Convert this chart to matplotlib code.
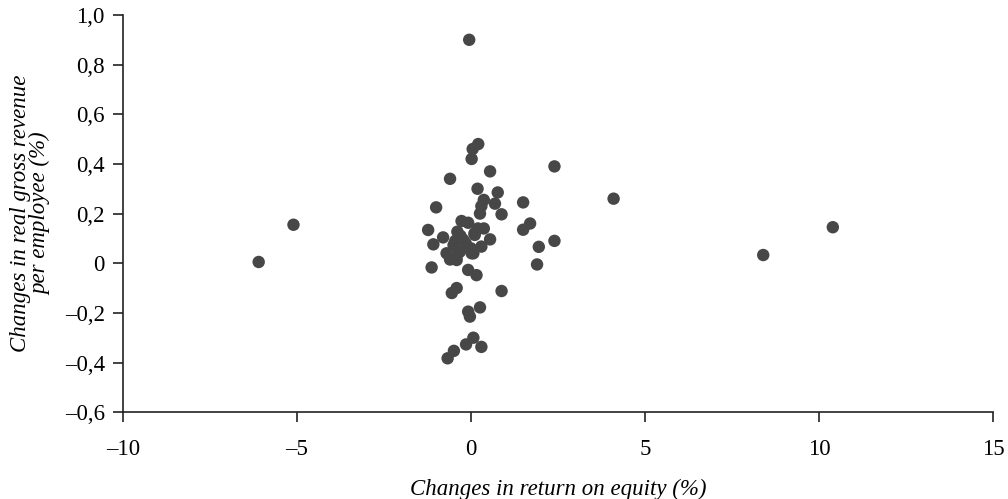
import matplotlib.pyplot as plt
from matplotlib.ticker import FuncFormatter, MultipleLocator

# Changes in return on equity (%) vs changes in real gross revenue per employee (%)
roe_change = [
    -6.1, -5.1, -0.05, 2.4, 4.1, 10.4, 8.4, 2.4, 1.95, 1.9,
    1.7, 1.5, 1.5, 0.88, 0.77, 0.69, 0.55, 0.55, 0.21, 0.05,
    0.02, 0.19, -0.6, -1.0, -1.23, -1.08, -0.8, -0.7, -1.13, -0.41,
    -0.55, -0.08, -0.03, 0.26, 0.07, -0.14, 0.3, -0.49, -0.67, 0.37,
    0.3, 0.26, -0.27, -0.08, 0.37, -0.39, 0.11, -0.22, 0.3, -0.5,
    -0.32, 0.02, -0.41, 0.07, -0.08, 0.16, 0.88, -0.55, -0.41, 0.0,
    -0.15, 0.1, -0.3, -0.45, 0.2, -0.6,
]
revenue_change = [
    0.005, 0.155, 0.90, 0.39, 0.26, 0.145, 0.033, 0.09, 0.066, -0.005,
    0.16, 0.245, 0.135, 0.197, 0.285, 0.24, 0.37, 0.096, 0.48, 0.46,
    0.42, 0.30, 0.34, 0.225, 0.134, 0.076, 0.104, 0.04, -0.017, 0.013,
    -0.12, -0.195, -0.215, -0.178, -0.30, -0.327, -0.337, -0.353, -0.383, 0.255,
    0.23, 0.20, 0.17, 0.163, 0.14, 0.127, 0.114, 0.094, 0.067, 0.073,
    0.046, 0.04, -0.10, 0.04, -0.027, -0.048, -0.112, 0.02, 0.03, 0.06,
    0.08, 0.12, 0.11, 0.09, 0.14, 0.015,
]

plt.rcParams['font.family'] = ['Liberation Serif', 'DejaVu Serif']

fig = plt.figure(figsize=(10.08, 4.99), dpi=100)
ax = fig.add_axes([0.122, 0.174, 0.863, 0.796])

ax.scatter(roe_change, revenue_change, s=80, color='#474747', edgecolors='none', zorder=3)

ax.set_xlim(-10, 15)
ax.set_ylim(-0.6, 1.0)
ax.xaxis.set_major_locator(MultipleLocator(5))
ax.yaxis.set_major_locator(MultipleLocator(0.2))


def y_fmt(v, pos):
    # decimal comma, en dash for minus
    if abs(v) < 1e-9:
        return '0'
    return f'{v:.1f}'.replace('.', ',').replace('-', '\u2013')


def x_fmt(v, pos):
    return f'{v:g}'.replace('-', '\u2013')


ax.yaxis.set_major_formatter(FuncFormatter(y_fmt))
ax.xaxis.set_major_formatter(FuncFormatter(x_fmt))

for side in ['top', 'right']:
    ax.spines[side].set_visible(False)
for side in ['left', 'bottom']:
    ax.spines[side].set_linewidth(1.2)
    ax.spines[side].set_color('#222222')

ax.tick_params(axis='both', direction='out', length=7, width=1.2, color='#222222',
               labelsize=16.5, pad=6)
ax.tick_params(axis='x', pad=12)

ax.set_xlabel('Changes in return on equity (%)', fontsize=16.5, style='italic', labelpad=14)
ax.set_ylabel('Changes in real gross revenue\nper employee (%)', fontsize=16.5,
              style='italic', labelpad=10, linespacing=0.95)

fig.savefig('out.png', dpi=100)
